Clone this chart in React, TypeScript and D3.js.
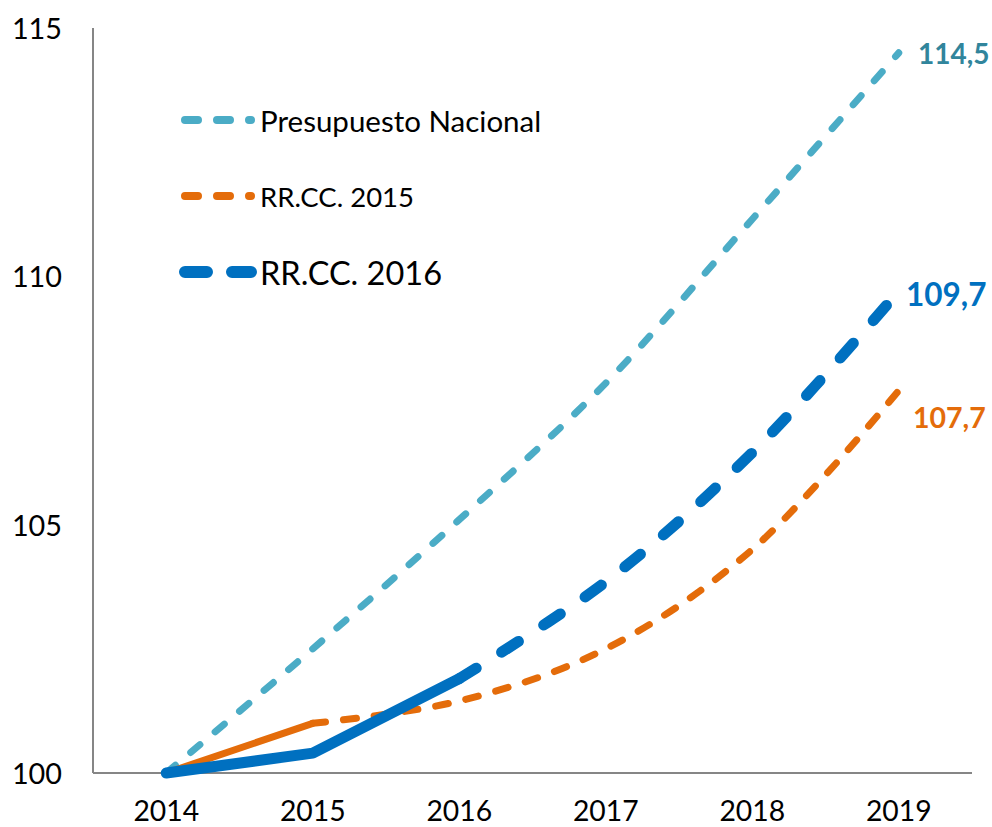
import React from "react";
import * as d3 from "d3";

const years = ["2014", "2015", "2016", "2017", "2018", "2019"];
const presupuesto = [100, 102.5, 105.1, 107.85, 111.15, 114.5];
const rrcc2015 = [100, 101.0, 101.45, 102.5, 104.5, 107.7];
const rrcc2016 = [100, 100.4, 101.9, 103.85, 106.45, 109.7];
const yTicks = [100, 105, 110, 115];
const seriesNames = ["Presupuesto Nacional", "RR.CC. 2015", "RR.CC. 2016"];
const endLabels = ["114,5", "107,7", "109,7"];

const W = 992;
const H = 827;
const FONT = "Lato, 'Open Sans', sans-serif";

type Series = {
  name: string;
  values: number[];
  solidUntil: number;
  color: string;
  labelColor: string;
  width: number;
  dash: string;
  label: string;
  labelSize: number;
  labelX: number;
  labelDy: number;
  legendY: number;
  legendSize: number;
  legendWidth: number;
  legendDash: string;
};

export default function App() {
  const left = 93, right = 972, top = 28, bottom = 773;
  const x = d3.scaleBand<string>().domain(years).range([left, right]).padding(0);
  const cx = (d: string) => (x(d) as number) + x.bandwidth() / 2;
  const y = d3.scaleLinear().domain([100, 115]).range([bottom, top]);

  const series: Series[] = [
    {
      name: seriesNames[0], values: presupuesto, solidUntil: 0,
      color: "#4BACC6", labelColor: "#31859C", width: 7, dash: "12 20",
      label: endLabels[0], labelSize: 28, labelX: 918, labelDy: 0,
      legendY: 120, legendSize: 29.5, legendWidth: 8, legendDash: "13 19",
    },
    {
      name: seriesNames[1], values: rrcc2015, solidUntil: 1,
      color: "#E46C0A", labelColor: "#E46C0A", width: 7, dash: "13 18",
      label: endLabels[1], labelSize: 28.5, labelX: 913, labelDy: 26,
      legendY: 196, legendSize: 27.5, legendWidth: 8, legendDash: "13 19",
    },
    {
      name: seriesNames[2], values: rrcc2016, solidUntil: 2,
      color: "#0070C0", labelColor: "#0070C0", width: 11, dash: "20 30",
      label: endLabels[2], labelSize: 31.5, labelX: 906, labelDy: 3,
      legendY: 272, legendSize: 32.5, legendWidth: 12, legendDash: "22 25",
    },
  ];

  const lineLinear = d3
    .line<[string, number]>()
    .x((d) => cx(d[0]))
    .y((d) => y(d[1]));
  const lineSmooth = d3
    .line<[string, number]>()
    .x((d) => cx(d[0]))
    .y((d) => y(d[1]))
    .curve(d3.curveCatmullRom.alpha(0.5));

  return (
    <svg
      width={W}
      height={H}
      style={{ position: "absolute", left: 0, top: 0, background: "#fff" }}
      fontFamily={FONT}
    >
      <rect x={0} y={0} width={W} height={H} fill="#fff" />
      <line x1={left} x2={left} y1={top} y2={bottom} stroke="#868686" strokeWidth={2} />
      <line x1={left} x2={right} y1={bottom} y2={bottom} stroke="#868686" strokeWidth={2} />
      {yTicks.map((t) => (
        <text
          key={t}
          x={62}
          y={y(t)}
          textAnchor="end"
          dominantBaseline="central"
          fontSize={28.8}
          fill="#000"
        >
          {t}
        </text>
      ))}
      {years.map((yr) => (
        <text
          key={yr}
          x={cx(yr)}
          y={810}
          textAnchor="middle"
          dominantBaseline="central"
          fontSize={28.3}
          fill="#000"
        >
          {yr}
        </text>
      ))}
      {series.map((s) => {
        const pts: [string, number][] = years.map((yr, k) => [yr, s.values[k]]);
        const solidPts = pts.slice(0, s.solidUntil + 1);
        const dashPts = pts.slice(s.solidUntil);
        return (
          <g key={s.name}>
            {solidPts.length > 1 && (
              <path
                d={lineLinear(solidPts) || ""}
                fill="none"
                stroke={s.color}
                strokeWidth={s.width}
                strokeLinecap="round"
                strokeLinejoin="round"
              />
            )}
            <path
              d={lineSmooth(dashPts) || ""}
              fill="none"
              stroke={s.color}
              strokeWidth={s.width}
              strokeDasharray={s.dash}
              strokeLinecap="round"
              strokeLinejoin="round"
            />
            <text
              x={s.labelX}
              y={y(s.values[s.values.length - 1]) + s.labelDy}
              dominantBaseline="central"
              fontSize={s.labelSize}
              fontWeight="bold"
              fill={s.labelColor}
            >
              {s.label}
            </text>
          </g>
        );
      })}
      {series.map((s) => (
        <g key={"leg" + s.name}>
          <line
            x1={185}
            x2={251}
            y1={s.legendY}
            y2={s.legendY}
            stroke={s.color}
            strokeWidth={s.legendWidth}
            strokeDasharray={s.legendDash}
            strokeLinecap="round"
          />
          <text
            x={260}
            y={s.legendY}
            dominantBaseline="central"
            fontSize={s.legendSize}
            fill="#000"
          >
            {s.name}
          </text>
        </g>
      ))}
    </svg>
  );
}
